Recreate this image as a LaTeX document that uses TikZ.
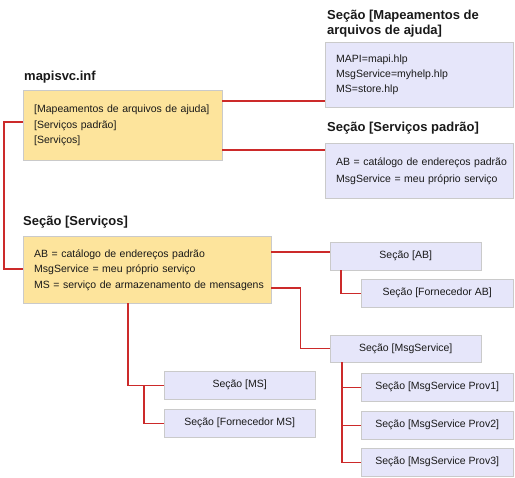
\documentclass[tikz,border=0pt]{standalone}
\usepackage{fontspec}
\setmainfont{Liberation Sans}
\definecolor{yfill}{HTML}{FDE49C}
\definecolor{lfill}{HTML}{E6E6FA}
\definecolor{bline}{HTML}{CACACA}
\definecolor{cred}{HTML}{CC2A2A}
\begin{document}
\begin{tikzpicture}[x=1pt,y=-1pt,
  title/.style={font=\fontsize{13}{15.5}\selectfont\bfseries, inner sep=0pt, text=black!90},
  ybox/.style={draw=bline, fill=yfill, anchor=north west, inner xsep=11pt, inner ysep=0pt,
    align=left, font=\fontsize{10.5}{15.5}\selectfont, text=black!90},
  lbox/.style={draw=bline, fill=lfill, anchor=north west, inner xsep=11pt, inner ysep=0pt,
    align=left, font=\fontsize{10.5}{15}\selectfont, text=black!90},
  sbox/.style={draw=bline, fill=lfill, anchor=north west, inner sep=0pt,
    minimum width=152pt, minimum height=28pt, font=\fontsize{10.5}{13}\selectfont, text=black!90},
  conn/.style={draw=cred, line width=1.2pt}]
\useasboundingbox (0,0) rectangle (515,478);

% titles
\node[title, anchor=base west] (tinf) at (24,81) {mapisvc.inf};
\node[title, anchor=north west, align=left] (tmapi) at (327,9.5) {Seção [Mapeamentos de\\arquivos de ajuda]};
\node[title, anchor=base west] (tsp) at (327,132) {Seção [Serviços padrão]};
\node[title, anchor=base west] (tsvc) at (23,226) {Seção [Serviços]};

% yellow boxes
\node[ybox, text width=177pt, minimum height=70pt] (b1) at (23,90)
  {\begin{tabular}{@{}l@{}}{[Mapeamentos de arquivos de ajuda]}\\ {[Serviços padrão]}\\ {[Serviços]}\end{tabular}};
\node[ybox, text width=226pt, minimum height=67pt] (svc) at (23,236)
  {\begin{tabular}{@{}l@{}}AB = catálogo de endereços padrão\\ MsgService = meu próprio serviço\\ MS = serviço de armazenamento de mensagens\end{tabular}};

% lavender text boxes
\node[lbox, text width=166pt, minimum height=65pt] (mapi) at (325,42)
  {\begin{tabular}{@{}l@{}}MAPI=mapi.hlp\\ MsgService=myhelp.hlp\\ MS=store.hlp\end{tabular}};
\node[lbox, text width=166pt, minimum height=55pt] (sp) at (325,143)
  {\fontsize{10.5}{17}\selectfont\begin{tabular}{@{}l@{}}AB = catálogo de endereços padrão\\ MsgService = meu próprio serviço\end{tabular}};

% section boxes
\node[sbox, minimum width=151pt] (ab) at (330,242) {Seção [AB]};
\node[sbox] (fab) at (361,279) {Seção [Fornecedor AB]};
\node[sbox, minimum width=151pt, minimum height=27pt] (msg) at (330,335) {Seção [MsgService]};
\node[sbox] (p1) at (361,373) {Seção [MsgService Prov1]};
\node[sbox] (p2) at (361,411) {Seção [MsgService Prov2]};
\node[sbox] (p3) at (361,448) {Seção [MsgService Prov3]};
\node[sbox, minimum width=151pt] (ms) at (164,371) {Seção [MS]};
\node[sbox, minimum width=151pt] (fms) at (164,409) {Seção [Fornecedor MS]};

% connectors
\draw[conn] (b1.east |- 0,101) -- (mapi.west |- 0,101);
\draw[conn] (b1.east |- 0,150) -- (sp.west |- 0,150);
\draw[conn] (b1.west |- 0,122) -- ++(-19,0) |- (svc.west |- 0,269);
\draw[conn] (svc.east |- 0,252) -- (ab.west |- 0,252);
\draw[conn] (ab.south -| 341,0) |- (fab.west);
\draw[conn] (svc.east |- 0,288) -- ++(29,0) |- (msg.west);
\draw[conn] (msg.south -| 342,0) |- (p3.west);
\coordinate (j1) at (p1.west -| 342,0);
\coordinate (j2) at (p2.west -| 342,0);
\draw[conn] (j1) -- (p1.west);
\draw[conn] (j2) -- (p2.west);
\draw[conn] (svc.south -| 128,0) |- (ms.west);
\coordinate (j3) at (ms.west -| 144,0);
\draw[conn] (j3) |- (fms.west);
\end{tikzpicture}
\end{document}
